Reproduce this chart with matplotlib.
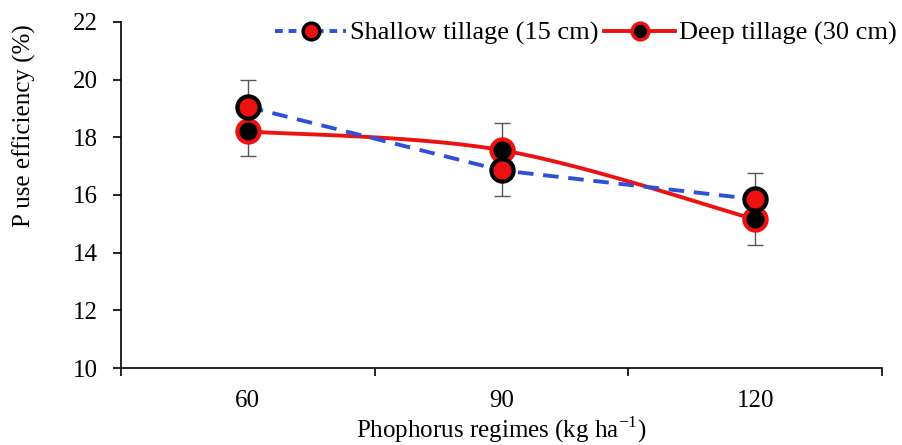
import numpy as np
import matplotlib
matplotlib.use('Agg')
import matplotlib.pyplot as plt
from matplotlib.lines import Line2D

plt.rcParams['font.family'] = ['Liberation Serif', 'DejaVu Serif']
plt.rcParams['mathtext.fontset'] = 'custom'
plt.rcParams['mathtext.rm'] = 'Liberation Serif'

regimes = ['60', '90', '120']
shallow = [19.05, 16.85, 15.85]
shallow_err = [0.95, 0.9, 0.9]
deep = [18.2, 17.55, 15.15]
deep_err = [0.85, 0.95, 0.9]

blue = '#2f4fd6'
red = '#ee1111'


def smooth(xs, ys, n=40):
    # catmull-rom through the points, like a spreadsheet "smoothed line"
    xs = np.asarray(xs, float)
    ys = np.asarray(ys, float)
    px = np.concatenate([[xs[0]], xs, [xs[-1]]])
    py = np.concatenate([[ys[0]], ys, [ys[-1]]])
    outx, outy = [], []
    for i in range(1, len(px) - 2):
        t = np.linspace(0, 1, n)
        for p, out in ((px, outx), (py, outy)):
            p0, p1, p2, p3 = p[i - 1], p[i], p[i + 1], p[i + 2]
            m1 = (p2 - p0) / 2
            m2 = (p3 - p1) / 2
            h00 = 2 * t**3 - 3 * t**2 + 1
            h10 = t**3 - 2 * t**2 + t
            h01 = -2 * t**3 + 3 * t**2
            h11 = t**3 - t**2
            out.extend(h00 * p1 + h10 * m1 + h01 * p2 + h11 * m2)
    return np.array(outx), np.array(outy)


fig = plt.figure(figsize=(9.03, 4.45), dpi=100)
ax = fig.add_axes([0.134, 0.173, 0.843, 0.778])

x = np.arange(1, len(regimes) + 1)

ax.errorbar(x, shallow, yerr=shallow_err, fmt='none', ecolor='#555555',
            elinewidth=1, capsize=6, capthick=1, zorder=1)
ax.errorbar(x, deep, yerr=deep_err, fmt='none', ecolor='#555555',
            elinewidth=1, capsize=6, capthick=1, zorder=1)

sx, sy = smooth(x, deep)
ax.plot(sx, sy, color=red, lw=2.8, zorder=2)
ax.plot(x, deep, 'o', ms=16, mfc='black', mec=red, mew=3, zorder=3)

ax.plot(x, shallow, '--', color=blue, lw=2.8, dashes=(4, 2.5), zorder=4)
ax.plot(x, shallow, 'o', ms=16, mfc=red, mec='black', mew=3, zorder=5)

ax.set_xlim(0.5, 3.5)
ax.set_ylim(10, 22)
ax.set_yticks(range(10, 23, 2))
ax.set_xticks([0.5, 1.5, 2.5, 3.5])
ax.set_xticklabels([])
ax.set_xticks(x, minor=True)
ax.set_xticklabels(regimes, minor=True)
ax.tick_params(axis='x', which='minor', length=0, pad=16, labelsize=18)
ax.tick_params(axis='x', which='major', length=6, width=1.2, direction='out')
ax.tick_params(axis='y', length=6, width=1.2, labelsize=18, pad=11)
for s in ('top', 'right'):
    ax.spines[s].set_visible(False)
for s in ('left', 'bottom'):
    ax.spines[s].set_linewidth(1.2)

ax.set_ylabel('P use efficiency (%)', fontsize=18)
ax.yaxis.set_label_coords(-0.112, 0.70)
ax.set_xlabel(r'Phophorus regimes (kg ha$^{\mathregular{-1}}$)', fontsize=18, va='baseline')
ax.xaxis.set_label_coords(0.5, -0.2)

h_shallow = Line2D([], [], color=blue, lw=2.8, ls='--', dashes=(2, 1.5),
                   marker='o', ms=12, mfc=red, mec='black', mew=2.5)
h_deep = Line2D([], [], color=red, lw=2.8, marker='o', ms=12,
                mfc='black', mec=red, mew=2.5)
fig.legend([h_shallow, h_deep], ['Shallow tillage (15 cm)', 'Deep tillage (30 cm)'],
           loc='center right', bbox_to_anchor=(1.005, 0.925), ncol=2,
           frameon=False, fontsize=19, handlelength=2.7, handletextpad=0.15,
           columnspacing=0.2, borderaxespad=0)

fig.savefig('out.png', dpi=100)
